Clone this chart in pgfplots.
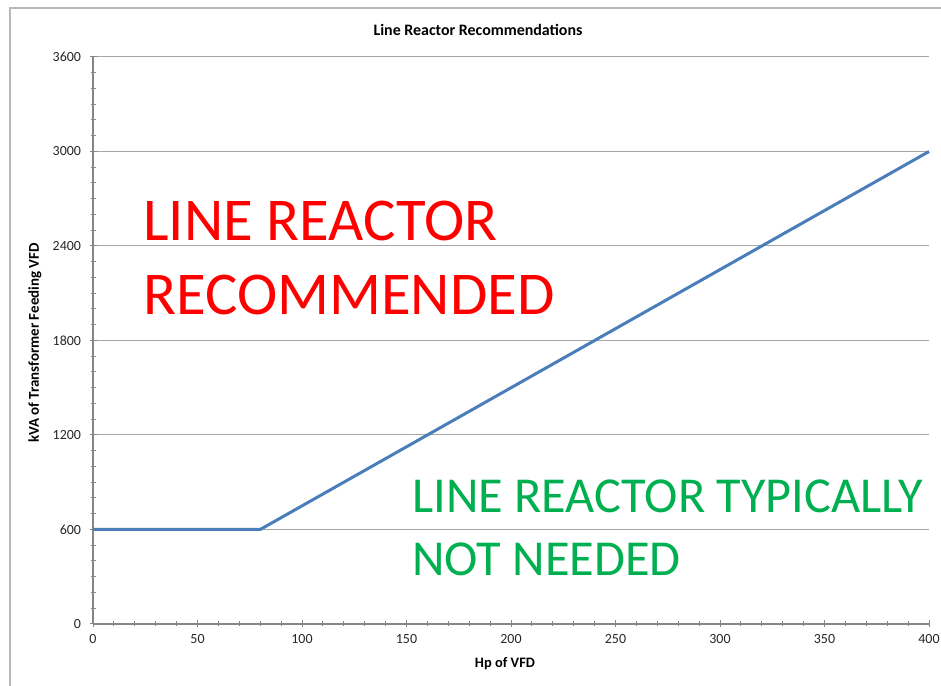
\documentclass[border=0pt]{standalone}
\usepackage{fontspec}
\setmainfont{Carlito}
\usepackage{pgfplots}
\pgfplotsset{compat=1.18}
\definecolor{lineblue}{HTML}{4A7EBB}
\definecolor{txtred}{HTML}{FF0000}
\definecolor{txtgreen}{HTML}{00B050}
\definecolor{gridgray}{HTML}{A6A6A6}
\definecolor{axgray}{HTML}{868686}
\begin{document}
\begin{tikzpicture}[x=1bp,y=1bp]
\useasboundingbox (0,0) rectangle (941,686);
\draw[color=gridgray!80, line width=1.5bp] (10,-5) -- (10,678) -- (950,678);
\begin{axis}[
  at={(93bp,62bp)}, anchor=south west,
  scale only axis, width=836bp, height=567bp,
  xmin=0, xmax=400, ymin=0, ymax=3600,
  xtick={0,50,...,400}, ytick={0,600,...,3600},
  minor x tick num=4, minor y tick num=5,
  axis x line*=bottom, axis y line*=left,
  axis line style={color=axgray, line width=1.2bp, -},
  ymajorgrids, major grid style={color=gridgray, line width=1bp},
  tick style={color=axgray, line width=1bp},
  tick align=center, major tick length=7bp, minor tick length=5bp,
  /pgf/number format/assume math mode=true,
  /pgf/number format/1000 sep={},
  tick label style={font=\fontsize{14}{14}\selectfont, color=black!85},
  xticklabel style={yshift=-3bp},
  yticklabel style={xshift=-5bp},
  clip=false,
]
\addplot[color=lineblue, line width=3bp, line join=round] coordinates {(0,600) (80,600) (400,3000)};
\end{axis}
\node[font=\bfseries\fontsize{16}{17}\selectfont] at (478,656) {Line Reactor Recommendations};
\node[font=\bfseries\fontsize{15}{16}\selectfont, rotate=90] at (35,343) {kVA of Transformer Feeding VFD};
\node[font=\bfseries\fontsize{14.5}{15}\selectfont] at (505,22) {Hp of VFD};
\node[anchor=base west, inner sep=0pt, text=txtred, font=\fontsize{61}{62}\selectfont] at (143,445) {LINE REACTOR};
\node[anchor=base west, inner sep=0pt, text=txtred, font=\fontsize{61}{62}\selectfont] at (143,371) {RECOMMENDED};
\node[anchor=base west, inner sep=0pt, text=txtgreen, font=\fontsize{50.5}{52}\selectfont] at (412,173) {LINE REACTOR TYPICALLY};
\node[anchor=base west, inner sep=0pt, text=txtgreen, font=\fontsize{50.5}{52}\selectfont] at (412,110) {NOT NEEDED};
\end{tikzpicture}
\end{document}
